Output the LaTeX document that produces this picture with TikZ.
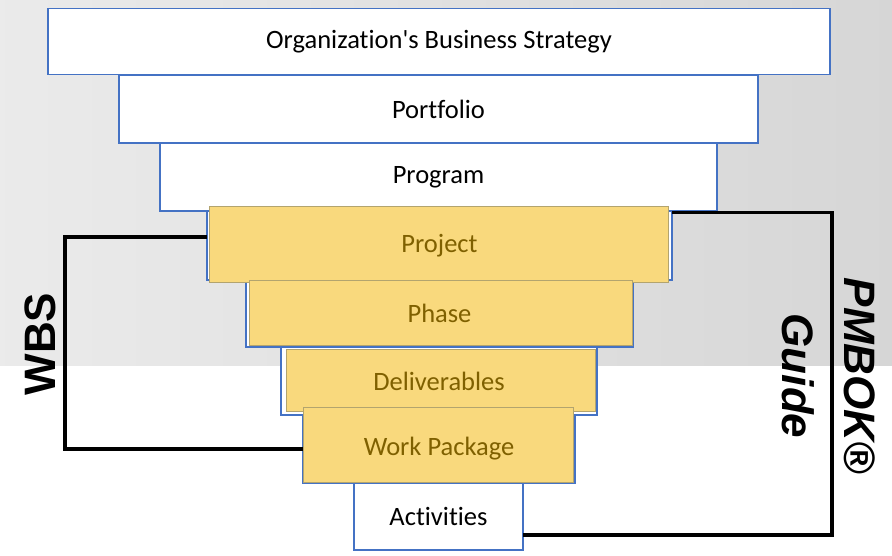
\documentclass[tikz,border=0pt]{standalone}
\usepackage{fontspec}
\setmainfont{Carlito}[Ligatures={TeXOff,CommonOff}]
\newfontfamily\labfont{Liberation Sans}
\usetikzlibrary{calc}
\definecolor{boxblue}{HTML}{4472C4}
\definecolor{hlyellow}{HTML}{F9D97D}
\definecolor{hlborder}{HTML}{B3A46E}
\definecolor{hltext}{HTML}{7F6000}
\pgfdeclarelayer{background}
\pgfsetlayers{background,main}
\tikzset{
  lvl/.style={minimum height=#1, inner sep=0pt, outer sep=0pt,
    font=\fontsize{26.5}{30}\selectfont, text=black},
  hl/.style={text=hltext},
  bracket/.style={line width=3.2pt, black},
  sidelabel/.style={font=\labfont\bfseries\fontsize{44}{62}\selectfont, inner sep=0pt, align=center},
  boxframe/.style={fill=white, draw=boxblue, line width=1.2pt},
  hlframe/.style={fill=hlyellow, draw=hlborder, line width=1pt}
}
\begin{document}
\begin{tikzpicture}[x=1pt,y=-1pt]
\useasboundingbox (0,0) rectangle (892,555);
% boxes (text only; frames drawn on background layer)
\node[lvl=66pt, minimum width=782pt] (org) at (439,41.5) {Organization's Business Strategy};
\node[lvl=68pt, minimum width=639pt] (port) at (438.5,109) {Portfolio};
\node[lvl=68pt, minimum width=557pt] (prog) at (438.5,177) {Program};
\node[lvl=69pt, minimum width=465pt, hl] (proj) at (439.5,245.5) {Project};
\node[lvl=67pt, minimum width=387pt, hl] (phase) at (439.5,313.5) {Phase};
\node[lvl=68pt, minimum width=316pt, hl] (deliv) at (439,381) {Deliverables};
\node[lvl=68pt, minimum width=272pt, hl] (wp) at (439,449) {Work Package};
\node[lvl=67pt, minimum width=169pt] (act) at (438.5,516.5) {Activities};
\begin{pgfonlayer}{background}
  \shade[left color=black!8, right color=black!16] (0,0) rectangle (892,365);
  \foreach \n in {org,port,prog,proj,phase,deliv,wp,act}
    \draw[boxframe] (\n.north west) rectangle (\n.south east);
  \draw[hlframe] ($(proj.north west)+(2,-5)$) rectangle ($(proj.south east)+(-4,2)$);
  \draw[hlframe] ($(phase.north west)+(3,0)$) rectangle ($(phase.south east)+(-1,-2)$);
  \draw[hlframe] ($(deliv.north west)+(5,2)$) rectangle ($(deliv.south east)+(-2,-4)$);
  \draw[hlframe] ($(wp.north west)+(0,-8)$) rectangle ($(wp.south east)+(-2,-1)$);
\end{pgfonlayer}
% brackets
\coordinate (wbsL) at (65,0);
\coordinate (pmR) at (832,0);
\draw[bracket] ([yshift=8.5pt]proj.west) -| (wbsL |- wp.west) -- (wp.west);
\draw[bracket] ([yshift=-1.5pt]proj.north east) -| ([yshift=-18.5pt]pmR |- act.east) -- ([yshift=-18.5pt]act.east);
% side labels
\node[sidelabel, rotate=90] (wbs) at (40,344) {WBS};
\node[sidelabel, rotate=-90, font=\labfont\bfseries\itshape\fontsize{44}{62}\selectfont] (pmbok) at (829,376) {PMBOK®\\Guide};
\end{tikzpicture}
\end{document}
